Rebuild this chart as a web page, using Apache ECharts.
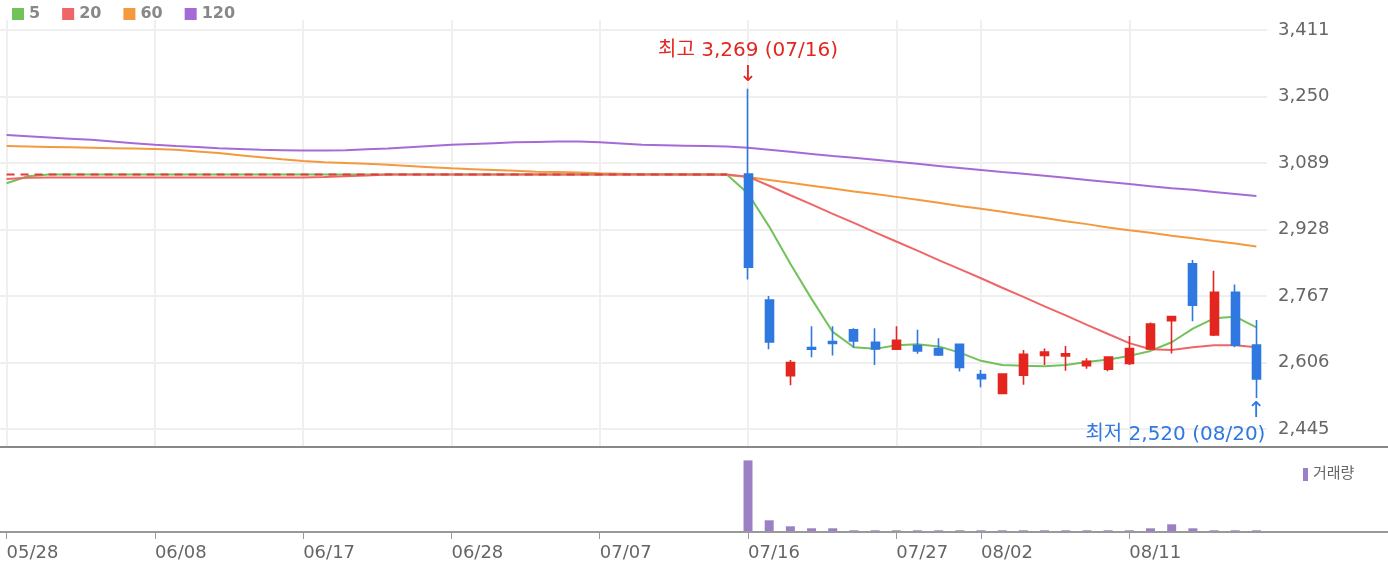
<!DOCTYPE html>
<html><head><meta charset="utf-8">
<script src="https://cdn.jsdelivr.net/npm/echarts@6/dist/echarts.min.js"></script>
<style>html,body{margin:0;padding:0;background:#fff}#c{width:1388px;height:570px}</style>
</head><body><div id="c"></div>
<script>
// ---- data ----
const dates = ['05/28','05/31','06/01','06/02','06/03','06/04','06/07','06/08','06/09','06/10','06/11','06/14','06/15','06/16','06/17','06/18','06/21','06/22','06/23','06/24','06/25','06/28','06/29','06/30','07/01','07/02','07/05','07/06','07/07','07/08','07/09','07/12','07/13','07/14','07/15','07/16','07/19','07/20','07/21','07/22','07/23','07/26','07/27','07/28','07/29','07/30','08/02','08/03','08/04','08/05','08/06','08/09','08/10','08/11','08/12','08/13','08/17','08/18','08/19','08/20'];
const candleDates = ['07/16','07/19','07/20','07/21','07/22','07/23','07/26','07/27','07/28','07/29','07/30','08/02','08/03','08/04','08/05','08/06','08/09','08/10','08/11','08/12','08/13','08/17','08/18','08/19','08/20'];
const opens  = [3062,2757,2574,2642,2657,2685,2655,2638,2647,2640,2650,2577,2531,2575,2623,2622,2598,2590,2604,2639,2707,2845,2673,2776,2648];
const closes = [2837,2656,2606,2638,2652,2658,2639,2660,2634,2624,2594,2567,2578,2626,2631,2627,2609,2619,2640,2699,2717,2745,2776,2648,2566];
const lows   = [2807,2638,2551,2619,2623,2642,2600,2637,2627,2622,2584,2546,2531,2552,2600,2586,2591,2585,2600,2637,2628,2706,2670,2643,2520];
const highs  = [3269,2767,2612,2694,2694,2689,2689,2694,2685,2665,2652,2588,2578,2636,2640,2646,2616,2621,2670,2703,2718,2854,2828,2795,2709];
const volumes = [3580000,585000,285000,185000,185000,85000,85000,85000,85000,85000,85000,85000,85000,85000,85000,85000,85000,85000,85000,185000,385000,185000,85000,85000,85000];
const ma5 = [3040,3057,3061,3061,3061,3061,3061,3061,3061,3061,3061,3061,3061,3061,3061,3061,3061,3061,3061,3061,3061,3061,3061,3061,3061,3061,3061,3061,3061,3061,3061,3061,3061,3061,3061,
  3015,2935,2845,2760,2680,2643,2639,2648,2650,2645,2630,2610,2600,2598,2597,2600,2607,2613,2622,2634,2655,2688,2713,2717,2691];
const ma20 = [3050,3053,3054,3054,3054,3054,3054,3054,3054,3054,3054,3054,3054,3054,3054,3055,3057,3059,3061,3061,3061,3061,3061,3061,3061,3061,3061,3061,3061,3061,3061,3061,3061,3061,3061,
  3056,3034,3011,2989,2966,2944,2921,2899,2877,2854,2832,2810,2787,2765,2742,2720,2697,2675,2653,2638,2636,2643,2648,2648,2643];
const ma60 = [3130,3129,3128,3127,3126,3125,3124,3123,3121,3117,3113,3108,3103,3098,3094,3091,3089,3087,3085,3082,3079,3076,3074,3072,3070,3068,3067,3066,3064,3063,3062,3062,3061,3061,3060,
  3055,3048,3041,3034,3027,3020,3014,3007,3000,2993,2985,2978,2971,2963,2956,2948,2941,2933,2926,2920,2913,2907,2900,2894,2887];
const ma120 = [3157,3154,3151,3148,3145,3141,3137,3133,3130,3128,3125,3123,3121,3120,3119,3119,3120,3122,3124,3127,3130,3133,3135,3137,3139,3140,3141,3141,3139,3136,3133,3132,3131,3130,3129,
  3126,3121,3116,3111,3106,3102,3097,3092,3087,3082,3077,3072,3067,3063,3058,3053,3048,3043,3038,3033,3028,3024,3019,3014,3009];
const basePrice = 3061;
const baseEnd = '07/15';
const priceTicks = [2445,2606,2767,2928,3089,3250,3411];
const dateLabels = ['05/28','06/08','06/17','06/28','07/07','07/16','07/27','08/02','08/11'];
const maNames = ['5','20','60','120'];

// ---- build ----
const FONT = "'DejaVu Sans', 'Noto Sans CJK KR', sans-serif";
const RED = '#e3261f', BLUE = '#2f78e0';
const ohlc = candleDates.map((d,k) => [d, opens[k], closes[k], lows[k], highs[k]]);
const vol = candleDates.map((d,k) => [d, volumes[k]]);
const baseIdx = dates.indexOf(baseEnd);
const baseData = dates.map((d,i) => i <= baseIdx ? basePrice : '-');
const isLabel = (i) => dateLabels.indexOf(dates[i]) >= 0;
const fmt = v => v.toLocaleString('en-US');

let hiK = 0, loK = 0;
highs.forEach((v,k) => { if (v > highs[hiK]) hiK = k; });
lows.forEach((v,k) => { if (v < lows[loK]) loK = k; });

const step = priceTicks[1] - priceTicks[0];
const pxPerStep = 66.5;
const yMin = priceTicks[0] - step * 18 / pxPerStep;
const yMax = priceTicks[priceTicks.length-1] + step * 10 / pxPerStep;

const gridL = -4, gridW = 1271;
const chart = echarts.init(document.getElementById('c'), null, {renderer:'canvas'});
const lineSeries = (name, data, color, z) => ({
  name, type:'line', data, xAxisIndex:0, yAxisIndex:0, showSymbol:false, symbol:'none',
  lineStyle:{color, width:2}, itemStyle:{color}, z, silent:true
});

chart.setOption({
  animation:false,
  textStyle:{fontFamily:FONT},
  grid:[
    {left:gridL, width:gridW, top:20, height:427, containLabel:false, outerBoundsMode:'none'},
    {left:gridL, width:gridW, top:452, height:80, containLabel:false, outerBoundsMode:'none'}
  ],
  legend:[
    {data:maNames, left:7, top:1, icon:'rect', itemWidth:12, itemHeight:12, itemGap:22, selectedMode:false,
     textStyle:{fontFamily:FONT, fontWeight:'bold', fontSize:16, color:'#888'}},
    {data:['거래량'], left:1298, top:462, icon:'rect', itemWidth:5, itemHeight:13, selectedMode:false,
     textStyle:{fontFamily:FONT, fontSize:15, color:'#666'}}
  ],
  xAxis:[
    {type:'category', data:dates, gridIndex:0, boundaryGap:true,
     axisLine:{show:false}, axisTick:{show:false}, axisLabel:{show:false},
     splitLine:{show:true, interval:(i)=>isLabel(i), alignWithLabel:true, lineStyle:{color:'#efefef', width:2}}},
    {type:'category', data:dates, gridIndex:1, boundaryGap:true,
     axisLine:{show:true, lineStyle:{color:'#999', width:2}},
     axisTick:{show:true, alignWithLabel:true, interval:(i)=>isLabel(i), length:7, lineStyle:{color:'#999', width:1}},
     axisLabel:{show:true, interval:(i)=>isLabel(i), align:'left', margin:12, fontSize:18, color:'#666', fontFamily:FONT},
     splitLine:{show:false}}
  ],
  yAxis:[
    {type:'value', gridIndex:0, position:'right', min:yMin, max:yMax, scale:true,
     axisLine:{show:false}, axisTick:{show:false, customValues:priceTicks},
     axisLabel:{customValues:priceTicks, formatter:v=>fmt(v), margin:11, fontSize:18, color:'#666', fontFamily:FONT},
     splitLine:{show:true, lineStyle:{color:'#efefef', width:2}}},
    {type:'value', gridIndex:1, min:0, max:4000000, show:false, splitLine:{show:false}}
  ],
  series:[
    lineSeries('120', ma120, '#a66ad6', 3),
    lineSeries('60', ma60, '#f39a3e', 3),
    lineSeries('5', ma5, '#72c25a', 3),
    lineSeries('20', ma20, '#ef6666', 4),
    {name:'base', type:'line', data:baseData, showSymbol:false, symbol:'none', silent:true, z:5,
     lineStyle:{color:'#e03c3c', width:2, type:[8,6]}},
    {name:'price', type:'candlestick', data:ohlc, encode:{x:0, y:[1,2,3,4]}, xAxisIndex:0, yAxisIndex:0, z:6,
     barWidth:8.5,
     itemStyle:{color:RED, color0:BLUE, borderColor:RED, borderColor0:BLUE, borderWidth:1.6},
     markPoint:{
       symbol:'circle', symbolSize:1, itemStyle:{color:'rgba(0,0,0,0)'}, silent:true, animation:false,
       data:[
         {coord:[candleDates[hiK], highs[hiK]],
          label:{show:true, position:'top', distance:2,
            formatter:`{t|최고 ${fmt(highs[hiK])} (${candleDates[hiK]})}\n{a|↓}`,
            rich:{t:{color:RED, fontSize:20, lineHeight:26, fontFamily:FONT}, a:{color:RED, fontSize:22, lineHeight:22, fontFamily:FONT}}}},
         {coord:[candleDates[loK], lows[loK]],
          label:{show:true, position:'bottom', distance:2, align:'right', offset:[9,0],
            formatter:`{a|↑}\n{t|최저 ${fmt(lows[loK])} (${candleDates[loK]})}`,
            rich:{t:{color:BLUE, fontSize:20, lineHeight:24, align:'right', fontFamily:FONT}, a:{color:BLUE, fontSize:22, lineHeight:22, align:'right', fontFamily:FONT}}}}
       ]
     }},
    {name:'거래량', type:'bar', data:vol, encode:{x:0, y:1}, xAxisIndex:1, yAxisIndex:1, barWidth:9,
     itemStyle:{color:'#9b80c6'}, silent:true}
  ],
  graphic:[
    {type:'line', shape:{x1:0, y1:447, x2:1388, y2:447}, style:{stroke:'#888', lineWidth:2}, z:100},
    {type:'line', shape:{x1:0, y1:532, x2:1388, y2:532}, style:{stroke:'#999', lineWidth:2}, z:100}
  ]
});
</script></body></html>
